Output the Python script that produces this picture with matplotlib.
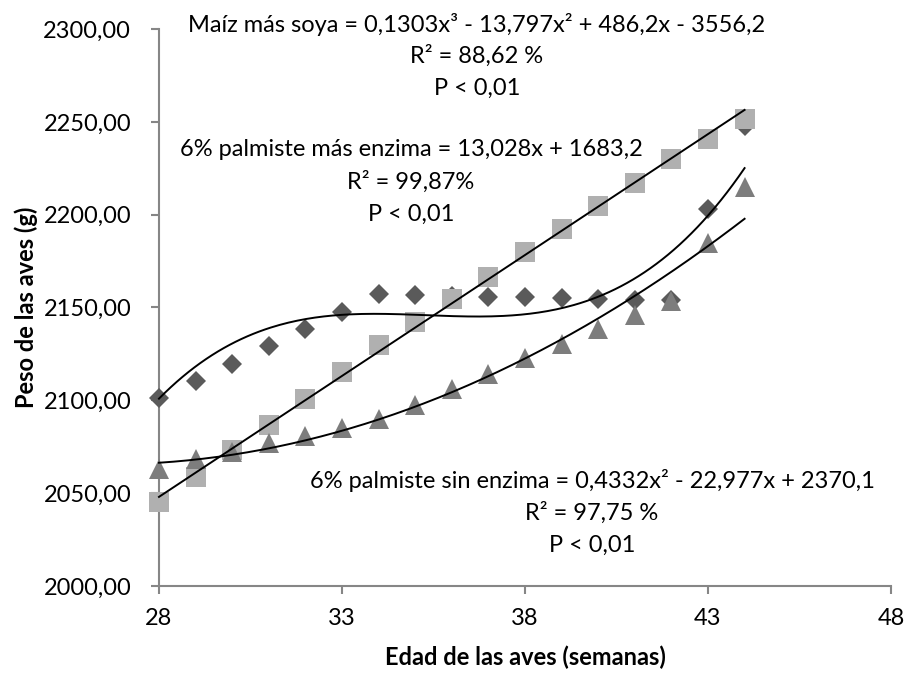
import numpy as np
import matplotlib
matplotlib.use('Agg')
import matplotlib.pyplot as plt

plt.rcParams['font.family'] = ['Lato', 'DejaVu Sans']

semanas = [28, 29, 30, 31, 32, 33, 34, 35, 36, 37, 38, 39, 40, 41, 42, 43, 44]

maiz_soya = [2101.0, 2110.6, 2119.5, 2129.0, 2138.5, 2147.7, 2157.2, 2156.5, 2156.0,
             2155.5, 2155.5, 2155.0, 2154.6, 2154.0, 2154.0, 2202.8, 2248.0]
palm_con_enz = [2045.0, 2058.7, 2073.0, 2086.7, 2100.7, 2115.0, 2129.8, 2142.0, 2154.5,
                2166.6, 2180.0, 2192.2, 2204.6, 2216.9, 2229.9, 2240.5, 2251.3]
palm_sin_enz = [2063.0, 2068.2, 2072.3, 2077.2, 2081.0, 2085.2, 2089.8, 2097.5, 2106.2,
                2114.2, 2122.6, 2130.3, 2138.6, 2145.9, 2153.5, 2184.5, 2215.0]

# coeficientes de las lineas de tendencia (tal como aparecen en el grafico)
coef_maiz = [0.1303, -13.797, 486.2, -3556.2]
coef_con = [13.028, 1683.2]
coef_sin = [0.4332, -22.977, 2370.1]

x_ticks = [28, 33, 38, 43, 48]
y_ticks = [2000, 2050, 2100, 2150, 2200, 2250, 2300]
y_labels = ['2000,00', '2050,00', '2100,00', '2150,00', '2200,00', '2250,00', '2300,00']

fig = plt.figure(figsize=(9.1, 6.75), dpi=100)
ax = fig.add_axes([0.1747, 0.1319, 0.8044, 0.8251])

ax.plot(semanas, maiz_soya, 'D', color='#5a5a5a', ms=10, mew=0, clip_on=False, zorder=3)
ax.plot(semanas, palm_con_enz, 's', color='#b0b0b0', ms=14.5, mew=0, clip_on=False, zorder=4)
ax.plot(semanas, palm_sin_enz, '^', color='#7d7d7d', ms=14.5, mew=0, clip_on=False, zorder=5)

xt = np.linspace(28, 44, 200)
for c in (coef_maiz, coef_con, coef_sin):
    ax.plot(xt, np.polyval(c, xt), 'k', lw=1.4, clip_on=False, zorder=6)

ax.set_xlim(28, 48)
ax.set_ylim(2000, 2300)
ax.set_xticks(x_ticks)
ax.set_yticks(y_ticks)
ax.set_yticklabels(y_labels)

for s in ['top', 'right']:
    ax.spines[s].set_visible(False)
for s in ['left', 'bottom']:
    ax.spines[s].set_color('#868686')
    ax.spines[s].set_linewidth(1.5)
ax.tick_params(axis='both', direction='out', length=6, width=1.5, color='#868686',
               labelsize=17, labelcolor='black')
ax.tick_params(axis='y', pad=14)
ax.tick_params(axis='x', pad=10)

ax.set_xlabel('Edad de las aves (semanas)', fontsize=17, fontweight='bold', labelpad=12)
ax.set_ylabel('Peso de las aves (g)', fontsize=17, fontweight='bold', labelpad=4)

bloques = [
    (477, 24, ['Maíz más soya = 0,1303x³ - 13,797x² + 486,2x - 3556,2',
               'R² = 88,62 %', 'P < 0,01']),
    (411, 150, ['6% palmiste más enzima = 13,028x + 1683,2',
                'R² = 99,87%', 'P < 0,01']),
    (592, 481, ['6% palmiste sin enzima = 0,4332x² - 22,977x + 2370,1',
                'R² = 97,75 %', 'P < 0,01']),
]
for cx, cy, lineas in bloques:
    for i, t in enumerate(lineas):
        fig.text(cx / 910, 1 - (cy + i * 32) / 675, t, fontsize=17,
                 ha='center', va='center')

fig.savefig('out.png', dpi=100)
